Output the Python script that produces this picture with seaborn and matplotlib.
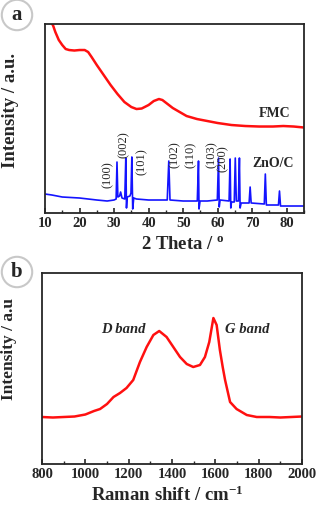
import numpy as np
import pandas as pd
import matplotlib
matplotlib.use("Agg")
import matplotlib.pyplot as plt
import seaborn as sns

# XRD, FMC (red)
fmc_theta = [10, 11, 12.3, 13, 14, 15, 16, 17, 18.5, 20, 21.5, 22.5, 23.5, 25, 27, 29, 31, 33,
             35, 36.5, 38, 40, 41.5, 43, 44, 45.5, 47, 49, 51, 54, 57, 60, 64, 68, 72, 76, 79, 82, 85]
fmc_int = [203, 193, 188, 181, 173, 168, 164, 163, 162.5, 163, 163, 161, 156, 148, 138, 128, 119, 111,
           106, 104, 104.5, 108, 112, 114, 113, 109, 105, 101, 97, 94, 92, 90, 88, 87, 86.5, 86.5, 87, 86.5, 85.5]

# XRD, ZnO/C (blue)
zno_theta = [10, 12, 15, 20, 25, 28, 30, 30.6, 30.85, 31.1, 31.6, 31.9, 32.3, 33.1, 33.4, 33.6, 33.8,
             34.6, 34.9, 35.15, 35.4, 35.7, 36.5, 40, 45.4, 45.85, 46.2, 50, 54.1, 54.45, 54.6, 54.9,
             57, 59.9, 60.25, 60.45, 60.7, 63.3, 63.6, 63.8, 64.0, 64.8, 65.1, 65.4, 66.0, 66.3, 66.5,
             66.8, 69.1, 69.4, 69.7, 73.5, 73.8, 74.1, 77.6, 77.9, 78.2, 82, 85]
zno_int = [19, 18, 16, 15, 13, 12, 13, 14, 51, 16, 17, 21, 15, 14, 55, 5, 16,
           17, 20, 56, 4, 15, 14, 13, 13, 52, 13, 12, 12, 52, 4, 12,
           12, 13, 55, 6, 13, 12, 54, 5, 11, 11, 55, 12, 12, 55, 5,
           10, 10, 26, 10, 9, 39, 8, 8, 22, 7, 7, 7]

peak_labels = ["(100)", "(002)", "(101)", "(102)", "(110)", "(103)", "(200)"]
label_theta = [28.2, 32.9, 38.1, 47.6, 52.3, 58.4, 61.5]
label_int = [38, 68, 51, 58, 58, 58, 54]

# Raman (red)
raman_shift = [800, 850, 900, 950, 1000, 1040, 1068, 1100, 1130, 1160, 1190, 1221, 1252, 1283, 1314,
               1341, 1375, 1406, 1437, 1468, 1498, 1529, 1552, 1572, 1591, 1606, 1621, 1634, 1645,
               1668, 1698, 1745, 1791, 1850, 1900, 1950, 2000]
raman_int = [47, 46.5, 47, 47.5, 49.5, 53, 55, 60, 67, 71, 76, 84, 102, 117, 129,
             133, 127, 117, 107, 100, 97, 99, 107, 122, 146, 139, 114, 97, 84,
             62, 55, 49, 47, 47, 46.5, 47, 47.5]

sns.set_style("ticks")
plt.rcParams["font.family"] = ["Liberation Serif", "DejaVu Serif"]
plt.rcParams["font.weight"] = "bold"
plt.rcParams["mathtext.fontset"] = "custom"
plt.rcParams["mathtext.rm"] = "Liberation Serif:bold"
plt.rcParams["mathtext.it"] = "Liberation Serif:bold"
plt.rcParams["mathtext.bf"] = "Liberation Serif:bold"

fig = plt.figure(figsize=(3.19, 5.08), dpi=100)
ax1 = fig.add_axes([0.141, 0.5807, 0.812, 0.372])
ax2 = fig.add_axes([0.1317, 0.0866, 0.815, 0.376])

fmc = pd.DataFrame({"theta": fmc_theta, "I": fmc_int})
zno = pd.DataFrame({"theta": zno_theta, "I": zno_int})
raman = pd.DataFrame({"shift": raman_shift, "I": raman_int})

sns.lineplot(data=fmc, x="theta", y="I", ax=ax1, color="#ff1010", lw=1.8)
sns.lineplot(data=zno, x="theta", y="I", ax=ax1, color="#1414ff", lw=1.2)
sns.lineplot(data=raman, x="shift", y="I", ax=ax2, color="#ff1010", lw=1.8)

ax1.set_xlim(10, 85)
ax1.set_ylim(0, 189)
ax2.set_xlim(800, 2000)
ax2.set_ylim(0, 191)

for ax, major, minor in [(ax1, 10, 5), (ax2, 200, 100)]:
    ax.set_xticks(np.arange(ax.get_xlim()[0], ax.get_xlim()[1] + 1, major))
    ax.set_xticks(np.arange(ax.get_xlim()[0], ax.get_xlim()[1] + 1, minor), minor=True)
    ax.set_yticks([])
    ax.tick_params(axis="x", which="major", direction="in", length=3.5, width=1.2,
                   labelsize=10.5, pad=3)
    ax.tick_params(axis="x", which="minor", direction="in", length=2, width=1.0)
    for s in ax.spines.values():
        s.set_linewidth(1.3)
        s.set_visible(True)
    for lab in ax.get_xticklabels():
        lab.set_fontweight("bold")

ax1.xaxis.set_major_formatter(matplotlib.ticker.FormatStrFormatter("%d"))
ax2.xaxis.set_major_formatter(matplotlib.ticker.FormatStrFormatter("%d"))

ax1.set_xlabel("2 Theta / $^{\\mathrm{o}}$", fontsize=13.5, fontweight="bold")
ax1.xaxis.set_label_coords(0.533, -0.12)
ax1.set_ylabel("Intensity / a.u.", fontsize=13.5, fontweight="bold")
ax1.yaxis.set_label_coords(-0.10, 0.545)

ax2.set_xlabel("Raman shift / cm$^{\\mathrm{-1}}$", fontsize=13.5, fontweight="bold")
ax2.xaxis.set_label_coords(0.483, -0.115)
ax2.set_ylabel("Intensity / a.u", fontsize=12.5, fontweight="bold")
ax2.yaxis.set_label_coords(-0.096, 0.60)

for lab, x, y in zip(peak_labels, label_theta, label_int):
    ax1.text(x, y, lab, rotation=90, ha="center", va="center", fontsize=9, fontweight="normal")

ax1.text(76.6, 100, "FMC", ha="center", va="center", fontsize=10, fontweight="bold")
ax1.text(76.0, 50, "ZnO/C", ha="center", va="center", fontsize=10, fontweight="bold")
ax2.text(1174, 135, "D band", ha="center", va="center", fontsize=10.5, fontweight="bold", style="italic")
ax2.text(1746, 135, "G band", ha="center", va="center", fontsize=10.5, fontweight="bold", style="italic")

for letter, y in [("a", 1 - 15 / 508), ("b", 1 - 272 / 508)]:
    fig.text(17 / 319, y, letter, ha="center", va="center", fontsize=15, fontweight="bold",
             bbox=dict(boxstyle="circle,pad=0.25", facecolor="white", edgecolor="#c8c8c8", lw=1.5))

fig.savefig("out.png", dpi=100)
